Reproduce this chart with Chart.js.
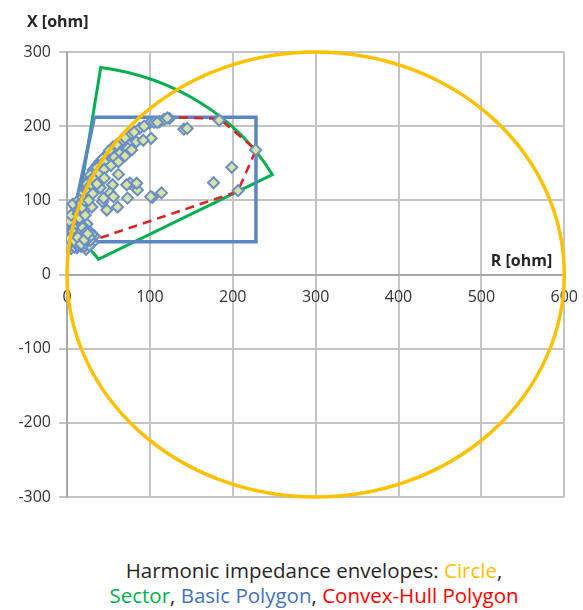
<!DOCTYPE html>
<html>
<head>
<meta charset="utf-8">
<script src="https://cdn.jsdelivr.net/npm/chart.js@4"></script>
<style>
	body { margin: 0; background: #ffffff; }
	#wrap { position: relative; width: 583px; height: 610px; }
	#caption {
		position: absolute; left: 64px; top: 558px; width: 500px;
		text-align: center; font-family: 'Open Sans', sans-serif; font-size: 20.5px;
		line-height: 25px; color: #262626;
	}
</style>
</head>
<body>
<div id="wrap">
	<canvas id="chart" width="583" height="540"></canvas>
	<div id="caption">Harmonic impedance envelopes: <span style="color:#ffc000">Circle</span>,<br><span style="color:#00b050">Sector</span>, <span style="color:#4472c4">Basic Polygon</span>, <span style="color:#ff0000">Convex-Hull Polygon</span></div>
</div>
<script>
// ticks
const rTicks = [0, 100, 200, 300, 400, 500, 600];
const xTicks = [-300, -200, -100, 0, 100, 200, 300];

// measured harmonic impedances (R, X) in ohm
const pointsR = [
	// dense group near origin
	2, 4, 5, 6, 8, 9, 10, 12, 13, 14, 16, 17, 18, 20, 21, 22, 24, 25, 27, 28, 30, 3, 7, 11, 15, 19, 5, 12, 23, 26, 31, 33, 8, 14, 18,
	1, 2, 3, 4, 5, 6, 7, 8, 9, 10, 11, 12, 13, 14, 15, 16, 17, 18, 19, 20, 21, 22, 23, 24, 25, 26, 27, 28, 29, 30,
	6, 10, 3, 12, 20, 24, 9, 5, 16, 11, 18, 7, 14, 21,
	2, 4, 6, 8, 10, 12, 14, 16, 18, 20, 22, 24, 26, 28, 3, 7, 11, 15, 19, 23, 27, 9, 13, 17, 21, 25,
	// upper band
	13.6, 17.6, 21.6, 25.6, 29.6, 33.6, 39.6, 47.6, 55.6, 65.6, 75.6, 87.6, 99.6, 111.6, 123.6,
	16, 19, 23, 27, 31, 36, 43, 51, 60, 70, 81, 93, 105, 117,
	101.6, 83.6, 73.6, 63.6, 51.6, 41.6, 31.6, 92, 57, 46, 36, 28, 24, 20, 17,
	15, 18, 21, 25, 29, 34, 39, 45, 53, 62, 70, 78,
	// lower spread
	76, 85, 103, 114, 73, 61, 48, 55, 52, 43, 30, 22, 40, 31, 31, 72, 84, 101, 56, 44, 26, 36, 45, 62,
	// outliers
	141, 145, 183.6, 227.6, 198.8, 176.8, 206.4, 121, 109
];
const pointsX = [
	45, 50, 40, 55, 47, 60, 42, 52, 65, 45, 58, 38, 50, 44, 56, 62, 48, 40, 53, 45, 50, 62, 68, 72, 70, 66, 35, 36, 34, 58, 43, 52, 78, 80, 74,
	44, 52, 38, 58, 47, 41, 53, 62, 37, 48, 57, 44, 39, 61, 52, 46, 66, 42, 55, 49, 38, 53, 45, 60, 51, 44, 39, 57, 48, 54,
	66, 70, 72, 76, 70, 68, 84, 80, 84, 90, 92, 95, 100, 86,
	41, 46, 51, 56, 61, 40, 49, 54, 59, 64, 42, 47, 52, 46, 48, 58, 43, 55, 63, 57, 50, 45, 50, 41, 47, 55,
	82, 98, 112, 123, 132, 143, 152, 161, 172, 179, 188, 197, 204, 206, 210.5,
	88, 104, 117, 128, 137, 147, 156, 167, 175, 184, 192, 200, 205, 209,
	183.6, 179, 170, 163, 154, 148, 141, 181, 158, 151, 144, 134, 122, 110, 96,
	76, 90, 100, 112, 121, 130, 136, 142, 147, 152, 160, 168,
	123, 114, 104, 110, 103, 91, 87, 121, 110, 98, 91, 80, 117, 109, 130, 121, 123, 105, 105, 103, 100, 122, 130, 135,
	196, 197, 208, 168, 144.5, 123.7, 113, 211, 205
];

// basic polygon envelope
const basicR = [33, 228, 228, 4, 4, 33];
const basicX = [212, 212, 44, 44, 60, 212];

// convex-hull polygon envelope
const hullR = [13, 22, 34, 48, 66, 88, 122, 184, 228, 206, 31, 10, 3, 13];
const hullX = [82, 112, 143, 161, 179, 197, 212, 210, 168, 112, 46, 38, 50, 82];

// circle envelope: centre and radius
const circleCentre = [300, 0];
const circleRadius = 300;

// sector envelope: radii and angles (deg) around origin
const sectorRadii = [43, 282];
const sectorAngles = [28.5, 81.7];

function toXY(rs, xs)
{
	let out = [];
	for(let i = 0; i < rs.length; i++)
		out.push({x : rs[i], y : xs[i]});
	return out;
}

const envelopePlugin = {
	id : "envelopes",
	beforeDatasetsDraw(chart)
	{
		// sector drawn below the markers
		const ctx = chart.ctx;
		const sx = chart.scales.x, sy = chart.scales.y;
		const cx = sx.getPixelForValue(0), cy = sy.getPixelForValue(0);
		const kx = sx.getPixelForValue(1) - cx, ky = cy - sy.getPixelForValue(1);
		const a0 = sectorAngles[0] * Math.PI / 180, a1 = sectorAngles[1] * Math.PI / 180;
		const rIn = sectorRadii[0], rOut = sectorRadii[1];
		ctx.save();
		ctx.beginPath();
		ctx.moveTo(cx + rIn * kx * Math.cos(a1), cy - rIn * ky * Math.sin(a1));
		ctx.lineTo(cx + rOut * kx * Math.cos(a1), cy - rOut * ky * Math.sin(a1));
		ctx.ellipse(cx, cy, rOut * kx, rOut * ky, 0, -a1, -a0, false);
		ctx.lineTo(cx + rIn * kx * Math.cos(a0), cy - rIn * ky * Math.sin(a0));
		ctx.ellipse(cx, cy, rIn * kx, rIn * ky, 0, -a0, -a1, true);
		ctx.closePath();
		ctx.strokeStyle = "#00b050";
		ctx.lineWidth = 3;
		ctx.lineJoin = "miter";
		ctx.stroke();
		ctx.restore();
	},
	afterDatasetsDraw(chart)
	{
		const ctx = chart.ctx;
		const sx = chart.scales.x, sy = chart.scales.y;
		const cx = sx.getPixelForValue(circleCentre[0]);
		const cy = sy.getPixelForValue(circleCentre[1]);
		const rx = sx.getPixelForValue(circleCentre[0] + circleRadius) - cx;
		const ry = cy - sy.getPixelForValue(circleCentre[1] + circleRadius);
		ctx.save();
		ctx.beginPath();
		ctx.ellipse(cx, cy, rx, ry, 0, 0, Math.PI * 2);
		ctx.strokeStyle = "#ffc000";
		ctx.lineWidth = 3.5;
		ctx.stroke();

		// axis titles
		const area = chart.chartArea;
		ctx.fillStyle = "#262626";
		ctx.font = "bold 16px 'Open Sans', sans-serif";
		ctx.textBaseline = "alphabetic";
		ctx.textAlign = "left";
		ctx.fillText("X [ohm]", 27, area.top - 25);
		ctx.textAlign = "right";
		ctx.fillText("R [ohm]", area.right - 12, sy.getPixelForValue(0) - 9);
		ctx.restore();
	}
};

new Chart(document.getElementById("chart").getContext("2d"),
{
	type : "scatter",
	data :
	{
		datasets :
		[{
			label : "Points",
			data : toXY(pointsR, pointsX),
			pointStyle : "rectRot",
			pointRadius : 5.5,
			pointBackgroundColor : "#d6e3a2",
			pointBorderColor : "#6a8ec6",
			pointBorderWidth : 2,
			showLine : false,
			order : 1
		},
		{
			label : "Convex-Hull Polygon",
			data : toXY(hullR, hullX),
			showLine : true,
			borderColor : "#e02020",
			borderWidth : 2.5,
			borderDash : [9, 6],
			pointRadius : 0,
			tension : 0,
			order : 2
		},
		{
			label : "Basic Polygon",
			data : toXY(basicR, basicX),
			showLine : true,
			borderColor : "#5a86c6",
			borderWidth : 3.5,
			pointRadius : 0,
			tension : 0,
			order : 3
		}]
	},
	options :
	{
		responsive : false,
		devicePixelRatio : 1,
		animation : false,
		layout : { padding : { left : 0, right : 16, top : 52, bottom : 43 } },
		plugins :
		{
			legend : { display : false },
			tooltip : { enabled : false }
		},
		scales :
		{
			x :
			{
				type : "linear",
				position : { y : 0 },
				min : 0,
				max : 600,
				afterBuildTicks : s => { s.ticks = rTicks.map(v => ({ value : v })); },
				grid : { color : "#c4c4c4", lineWidth : 2, tickLength : 8 },
				border : { color : "#a8a8a8", width : 2 },
				ticks : { color : "#333333", padding : 5, font : { family : "'Open Sans', sans-serif", size : 16 }, maxRotation : 0 }
			},
			y :
			{
				type : "linear",
				position : "left",
				min : -300,
				max : 300,
				afterBuildTicks : s => { s.ticks = xTicks.map(v => ({ value : v })); },
				afterFit : s => { s.width = 67; },
				grid : { color : "#c4c4c4", lineWidth : 2, tickLength : 8 },
				border : { color : "#a8a8a8", width : 2 },
				ticks : { color : "#333333", padding : 8, font : { family : "'Open Sans', sans-serif", size : 16 } }
			}
		}
	},
	plugins : [envelopePlugin]
});
</script>
</body>
</html>
